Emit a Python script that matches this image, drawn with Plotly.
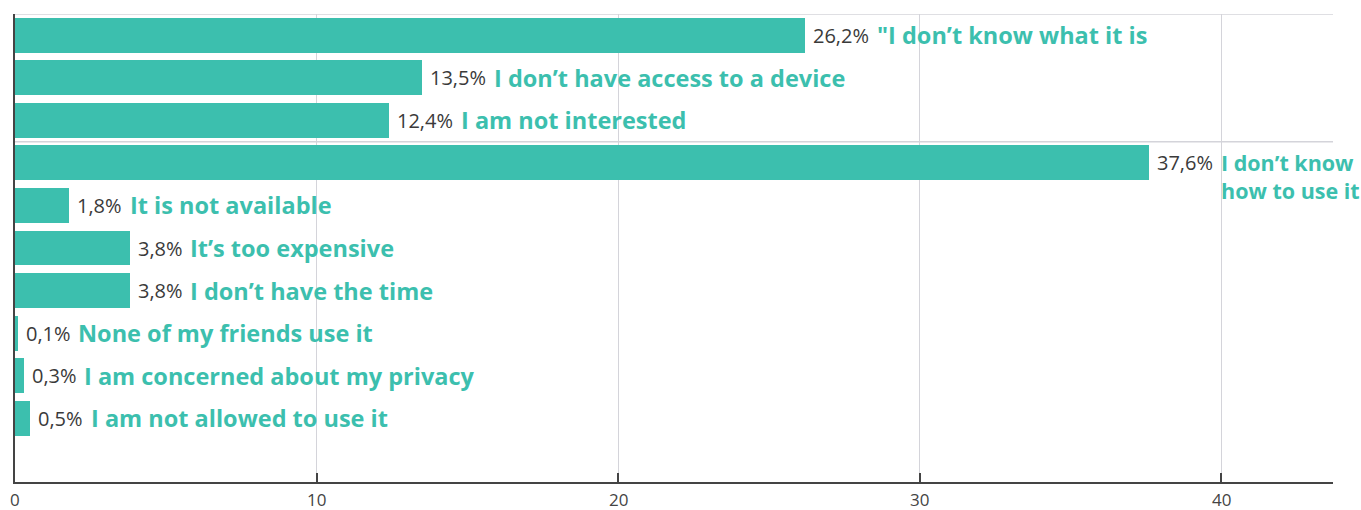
import plotly.graph_objects as go

# Survey: reasons for not using the service (share of respondents, %)
categories = [
    '"I don’t know what it is',
    "I don’t have access to a device",
    "I am not interested",
    "I don’t know<br>how to use it",
    "It is not available",
    "It’s too expensive",
    "I don’t have the time",
    "None of my friends use it",
    "I am concerned about my privacy",
    "I am not allowed to use it",
]
shares = [26.2, 13.5, 12.4, 37.6, 1.8, 3.8, 3.8, 0.1, 0.3, 0.5]
x_ticks = [0, 10, 20, 30, 40]

TEAL = "#3cbfae"
DARK = "#3a3a3a"
AXIS = "#444444"
GRID = "#d4d4da"
FONT = "Open Sans"
VAL_SIZE = 20
CAT_SIZE = 23.5
CAT_SIZE_WRAPPED = 21.5
TICK_SIZE = 17
VAL_GAP = 7
CAT_GAP = 8

# Open Sans advance widths (em) for the characters in the value labels
ADV = {",": 0.245, "%": 0.833, ".": 0.268}


def text_width(s, size):
    return sum(ADV.get(c, 0.572) for c in s) * size


def fmt(v):
    return f"{v:.1f}".replace(".", ",") + "%"


rows = list(range(len(categories)))

fig = go.Figure(
    go.Bar(
        x=shares,
        y=rows,
        orientation="h",
        width=0.82,
        marker=dict(color=TEAL, line=dict(width=0)),
        hoverinfo="skip",
    )
)

annotations = []
for r, v, cat in zip(rows, shares, categories):
    label = fmt(v)
    annotations.append(dict(
        x=v, y=r, xref="x", yref="y", text=label, showarrow=False,
        xanchor="left", yanchor="middle", xshift=VAL_GAP, borderpad=0,
        font=dict(family=FONT, size=VAL_SIZE, color=DARK),
    ))
    shift = VAL_GAP + text_width(label, VAL_SIZE) + CAT_GAP
    wrapped = "<br>" in cat
    size = CAT_SIZE_WRAPPED if wrapped else CAT_SIZE
    annotations.append(dict(
        x=v, y=r, xref="x", yref="y", text=cat, showarrow=False,
        xanchor="left", yanchor="top" if wrapped else "middle",
        align="left", xshift=shift,
        yshift=size * 0.72 if wrapped else 0,
        borderpad=0,
        font=dict(family=FONT, size=size, color=TEAL, weight=700),
    ))

# x tick labels, set a little below the axis line
for t in x_ticks:
    annotations.append(dict(
        x=t, y=0, xref="x", yref="paper", text=str(t), showarrow=False,
        xanchor="center", yanchor="top", yshift=-5, borderpad=0,
        font=dict(family=FONT, size=TICK_SIZE, color=AXIS),
    ))

# light horizontal rules at the top of the plot and below the third row
shapes = [
    dict(type="line", xref="paper", yref="y", x0=0, x1=1, y0=y, y1=y,
         line=dict(color=GRID, width=1.5), layer="below")
    for y in (-0.5, 2.5)
]

fig.update_layout(
    width=1361,
    height=510,
    margin=dict(l=15, r=28, t=14, b=28),
    paper_bgcolor="white",
    plot_bgcolor="white",
    showlegend=False,
    bargap=0,
    annotations=annotations,
    shapes=shapes,
    font=dict(family=FONT, color=DARK),
)

fig.update_xaxes(
    range=[0, 43.7],
    tickvals=x_ticks,
    showticklabels=False,
    automargin=False,
    showgrid=True,
    gridcolor=GRID,
    gridwidth=1,
    zeroline=False,
    showline=True,
    linecolor=AXIS,
    linewidth=2,
    ticks="inside",
    ticklen=9,
    tickwidth=2,
    tickcolor=AXIS,
)

fig.update_yaxes(
    range=[10.5, -0.5],
    automargin=False,
    showticklabels=False,
    showgrid=False,
    zeroline=False,
    showline=True,
    linecolor=AXIS,
    linewidth=2,
    ticks="",
)

fig.write_html("out.html")
